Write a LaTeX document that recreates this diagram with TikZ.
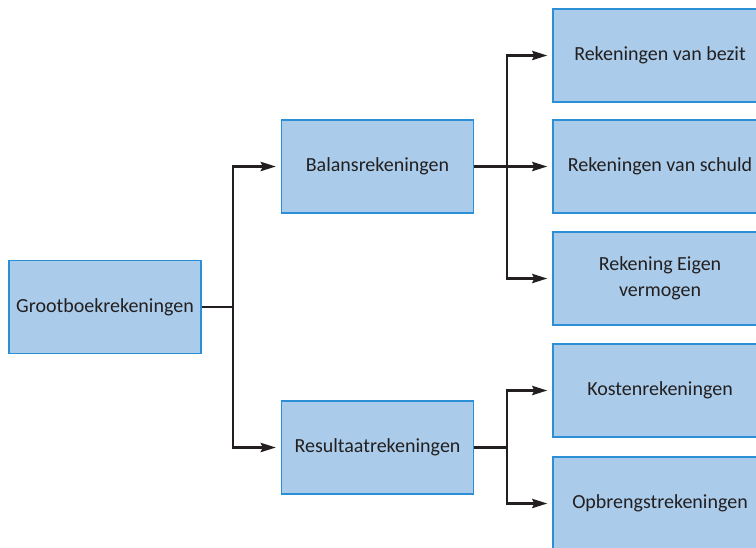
\documentclass[tikz,border=0pt]{standalone}
\usepackage{fontspec}
\setmainfont{Carlito}
\usetikzlibrary{calc,positioning,arrows.meta}
\definecolor{boxfill}{HTML}{AACCEA}
\definecolor{boxline}{HTML}{2A8FD5}
\definecolor{ink}{HTML}{231F20}
\newcommand{\Lbl}{\fontsize{20}{26}\selectfont}

\begin{document}
\begin{tikzpicture}[x=1pt,y=-1pt, font=\Lbl,
    acct/.style={draw=boxline, fill=boxfill, line width=1.2pt, minimum width=192pt, minimum height=93pt, align=center, text=ink, inner sep=2pt},
    wide/.style={acct, minimum width=214pt},
    conn/.style={draw=ink, line width=2.8pt},
    arr/.style={conn, -{Stealth[length=15pt,width=9pt,inset=2pt]}}]
  \useasboundingbox (0,0) rectangle (756,547);
  \clip (0,0) rectangle (756,547);
  \node[acct] (groot) at (105,307){Grootboekrekeningen};
  \node[acct] (balans) at (377.5,166.5){Balansrekeningen};
  \node[acct] (result) at (377.5,447.5){Resultaatrekeningen};
  % rechterkolom
  \node[wide] (bezit) at (660,55.5){Rekeningen van bezit};
  \node[wide] (schuld) at (660,166.5){Rekeningen van schuld};
  \node[wide] (eigen) at (660,278.5){Rekening Eigen\\vermogen};
  \node[wide] (kosten) at (660,390.5){Kostenrekeningen};
  \node[wide] (opbreng) at (660,503.5){Opbrengstrekeningen};
  \coordinate (jg) at (233,307);
  \coordinate (jb) at (507,166.5);
  \coordinate (jr) at (507,447.5);
  \draw[conn] (groot.east) -- (jg);
  \foreach \t in {balans,result}{\draw[arr] (jg) |- ([xshift=-5pt]\t.west);}
  \draw[conn] (balans.east) -- (jb);
  \foreach \t in {bezit,schuld,eigen}{\draw[arr] (jb) |- ([xshift=-5pt]\t.west);}
  \draw[conn] (result.east) -- (jr);
  \foreach \t in {kosten,opbreng}{\draw[arr] (jr) |- ([xshift=-5pt]\t.west);}
\end{tikzpicture}
\end{document}
